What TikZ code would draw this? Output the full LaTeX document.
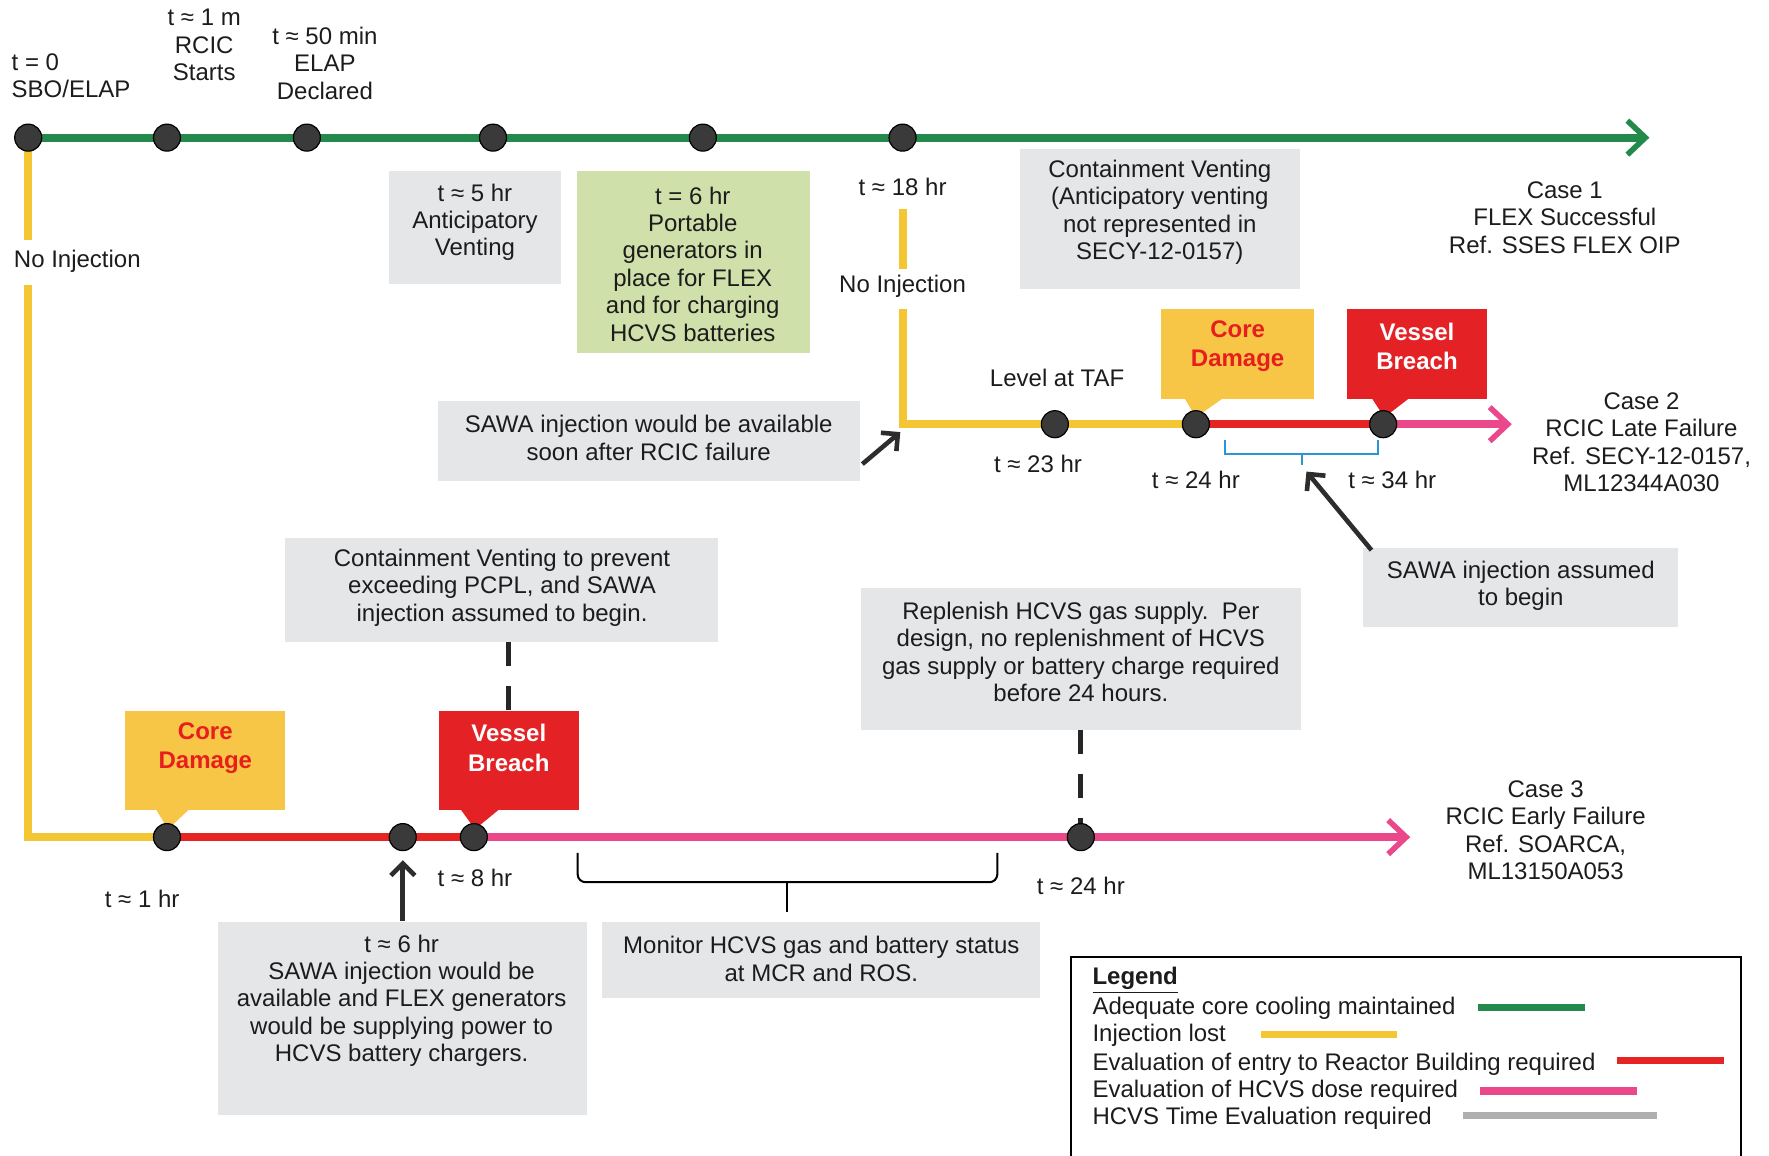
\documentclass[tikz,border=0pt]{standalone}
\usepackage{fontspec}
\setmainfont{Liberation Sans}
\usetikzlibrary{arrows.meta,fit,calc}
\definecolor{tlgreen}{RGB}{36,138,76}
\definecolor{tlyellow}{RGB}{244,198,52}
\definecolor{tlred}{RGB}{230,36,36}
\definecolor{tlpink}{RGB}{234,72,138}
\definecolor{tlgray}{RGB}{175,175,175}
\definecolor{boxgray}{RGB}{229,230,232}
\definecolor{boxgreen}{RGB}{207,224,170}
\definecolor{cdfill}{RGB}{247,198,70}
\definecolor{vbfill}{RGB}{228,34,38}
\definecolor{cdtext}{RGB}{232,30,30}
\definecolor{brblue}{RGB}{40,150,215}
\definecolor{dotc}{RGB}{58,58,58}
\definecolor{arrc}{RGB}{45,45,45}
\definecolor{txtc}{RGB}{28,28,28}
\begin{document}
\begin{tikzpicture}[x=0.564pt,y=-0.564pt,
  txt/.style={font=\fontsize{12}{13.7}\selectfont, align=center, inner sep=0pt, text=txtc},
  ltxt/.style={txt, align=left, anchor=west},
  gbox/.style={fill=boxgray, draw=none, inner sep=0pt},
  grbox/.style={fill=boxgreen, draw=none, inner sep=0pt},
  cdbox/.style={fill=cdfill, draw=none, inner sep=0pt},
  vbbox/.style={fill=vbfill, draw=none, inner sep=0pt},
  cdtxt/.style={font=\fontsize{12}{14.7}\selectfont\bfseries, align=center, inner sep=0pt, text=cdtext},
  vbtxt/.style={font=\fontsize{12}{14.7}\selectfont\bfseries, align=center, inner sep=0pt, text=white},
  dot/.style={circle, fill=dotc, draw=black, line width=0.6pt, minimum size=13.5pt, inner sep=0pt},
  tl/.style={line width=4pt},
  tip/.style={-{Straight Barb[length=9pt,width=17pt,line width=2.8pt]}},
  darr/.style={draw=arrc, line width=2.3pt, -{Straight Barb[length=6pt,width=12pt,line width=2.3pt]}},
  vdash/.style={draw=black!85, line width=2.5pt, dash pattern=on 12pt off 10pt},
  bracket/.style={draw=brblue, line width=1pt},
  brace/.style={draw=black, line width=1pt, rounded corners=4pt},
  legbar/.style={line width=3.6pt}
]
\useasboundingbox (0,0) rectangle (1568,1024);

% ---------- gray / green boxes ----------
\node[gbox, fit={(345,152)(497,252)}] (bx5) {};
\node[grbox, fit={(511,152)(718,313)}] (bx6g) {};
\node[gbox, fit={(904,132)(1152,256)}] (bxcv) {};
\node[gbox, fit={(388,355)(762,426)}] (sawa1) {};
\node[gbox, fit={(1208,486)(1487,556)}] (sawa2) {};
\node[gbox, fit={(253,477)(636,569)}] (cvp) {};
\node[gbox, fit={(763,521)(1153,647)}] (rep) {};
\node[gbox, fit={(193,817)(520,988)}] (bx6) {};
\node[gbox, fit={(534,817)(922,885)}] (mon) {};

% ---------- timeline coordinates ----------
\coordinate (a1) at (25,122);
\coordinate (a2) at (148,122);
\coordinate (a3) at (272,122);
\coordinate (a4) at (437,122);
\coordinate (a5) at (623,122);
\coordinate (a6) at (800,122);
\coordinate (a7) at (1462,122);
\coordinate (y1a) at (25,213);
\coordinate (y1b) at (25,253);
\coordinate (c0) at (25,742);
\coordinate (c1) at (148,742);
\coordinate (c2) at (357,742);
\coordinate (c3) at (420,742);
\coordinate (c4) at (958,742);
\coordinate (c5) at (1250,742);
\coordinate (y2a) at (800,185);
\coordinate (y2b) at (800,238);
\coordinate (y2c) at (800,274);
\coordinate (b0) at (800,376);
\coordinate (b1) at (935,376);
\coordinate (b2) at (1060,376);
\coordinate (b3) at (1226,376);
\coordinate (b4) at (1340,376);

% ---------- timelines ----------
\draw[tl, tlgreen, tip] (a1) -- (a7);
\draw[tl, tlyellow] (a1) -- (y1a);
\draw[tl, tlyellow] (y1b) -- (c0) -- (c1);
\draw[tl, tlred] (c1) -- (c3);
\draw[tl, tlpink, tip] (c3) -- (c5);
\draw[tl, tlyellow] (y2a) -- (y2b);
\draw[tl, tlyellow] (y2c) -- (b0) -- (b2);
\draw[tl, tlred] (b2) -- (b3);
\draw[tl, tlpink, tip] (b3) -- (b4);

% ---------- callouts ----------
\node[cdbox, fit={(1029,274)(1165,354)}] (cd2) {};
\fill[cdfill] (1050,353) -- (1060,370) -- (1084,353) -- cycle;
\node[vbbox, fit={(1194,274)(1318,354)}] (vb2) {};
\fill[vbfill] (1216,353) -- (1227,370) -- (1249,353) -- cycle;
\node[cdbox, fit={(111,630)(253,718)}] (cd3) {};
\fill[cdfill] (138,717) -- (149,735) -- (168,717) -- cycle;
\node[vbbox, fit={(389,630)(513,718)}] (vb3) {};
\fill[vbfill] (408,717) -- (421,735) -- (443,717) -- cycle;

% ---------- dashed connectors ----------
\draw[vdash] (vb3.north |- cvp.south) -- (vb3.north);
\draw[vdash] (rep.south) -- (c4);

% ---------- brackets ----------
\coordinate (brc) at (1154,412);
\draw[bracket] (1086,390) -- (1086,402) -- (1221,402) -- (1221,390);
\draw[bracket] (1154,402) -- (brc);
\coordinate (brc3) at (698,808);
\draw[brace] (512,756) -- (512,782) -- (884,782) -- (884,756);
\draw[brace] (698,782) -- (brc3);

% ---------- dots ----------
\foreach \p in {a1,a2,a3,a4,a5,a6,b1,b2,b3,c1,c2,c3,c4}
  \node[dot] (d\p) at (\p) {};

% ---------- arrows ----------
\draw[darr] ($(sawa1.south east)+(2,-15)$) -- ($(b0)+(-2,7)$);
\draw[darr] ($(sawa2.north west)+(8,2)$) -- ($(brc)+(4,6)$);
\draw[darr] (bx6.north -| dc2) -- ($(dc2.south)+(0,8)$);

% ---------- texts ----------
\node[ltxt] (t0) at (10,67) {t = 0\\SBO/ELAP};
\node[txt] (t1m) at (181,40) {t ≈ 1 m\\RCIC\\Starts};
\node[txt] (t50) at (288,56) {t ≈ 50 min\\ELAP\\Declared};
\node[ltxt] (ni1) at (12,232) {No Injection};
\node[txt] (bx5t) at (421,197) {t ≈ 5 hr\\Anticipatory\\Venting};
\node[txt] (bx6gt) at (614,234) {t = 6 hr\\Portable\\generators in\\place for FLEX\\and for charging\\HCVS batteries};
\node[txt] (t18) at (800,166) {t ≈ 18 hr};
\node[txt] (ni2) at (800,254) {No Injection};
\node[txt] (bxcvt) at (1028,188) {Containment Venting\\(Anticipatory venting\\not represented in\\SECY-12-0157)};
\node[txt] (case1) at (1387,193) {Case 1\\FLEX Successful\\Ref. SSES FLEX OIP};
\node[txt] (sawa1t) at (575,388) {SAWA injection would be available\\soon after RCIC failure};
\node[txt] (taf) at (937,335) {Level at TAF};
\node[txt] (t23) at (920,411) {t ≈ 23 hr};
\node[txt] (t24a) at (1060,425) {t ≈ 24 hr};
\node[txt] (t34) at (1234,425) {t ≈ 34 hr};
\node[cdtxt] (cd2t) at (1097,307) {Core\\Damage};
\node[vbtxt] (vb2t) at (1256,307) {Vessel\\Breach};
\node[txt] (case2) at (1455,392) {Case 2\\RCIC Late Failure\\Ref. SECY-12-0157,\\ML12344A030};
\node[txt] (sawa2t) at (1348,519) {SAWA injection assumed\\to begin};
\node[txt] (cvpt) at (445,521) {Containment Venting to prevent\\exceeding PCPL, and SAWA\\injection assumed to begin.};
\node[txt] (rept) at (958,578) {Replenish HCVS gas supply.\ \ Per\\design, no replenishment of HCVS\\gas supply or battery charge required\\before 24 hours.};
\node[cdtxt] (cd3t) at (182,663) {Core\\Damage};
\node[vbtxt] (vb3t) at (451,663) {Vessel\\Breach};
\node[txt] (case3) at (1370,736) {Case 3\\RCIC Early Failure\\Ref. SOARCA,\\ML13150A053};
\node[txt] (t1h) at (126,797) {t ≈ 1 hr};
\node[txt] (t8) at (421,778) {t ≈ 8 hr};
\node[txt] (t24b) at (958,785) {t ≈ 24 hr};
\node[txt] (bx6t) at (356,887) {t ≈ 6 hr\\SAWA injection would be\\available and FLEX generators\\would be supplying power to\\HCVS battery chargers.};
\node[txt] (mont) at (728,850) {Monitor HCVS gas and battery status\\at MCR and ROS.};

% ---------- legend ----------
\draw[line width=1.1pt] (949,1026) -- (949,848) -- (1543,848) -- (1543,1026);
\node[ltxt] (lg0) at (968,869) {\textbf{\underline{Legend}}};
\node[ltxt] (lg1) at (968,894) {Adequate core cooling maintained};
\node[ltxt] (lg2) at (968,918) {Injection lost};
\node[ltxt] (lg3) at (968,943) {Evaluation of entry to Reactor Building required};
\node[ltxt] (lg4) at (968,967) {Evaluation of HCVS dose required};
\node[ltxt] (lg5) at (968,991) {HCVS Time Evaluation required};
\draw[legbar, tlgreen] (1310,893) -- (1405,893);
\draw[legbar, tlyellow] (1118,917) -- (1238,917);
\draw[legbar, tlred] (1433,940) -- (1528,940);
\draw[legbar, tlpink] (1312,967) -- (1451,967);
\draw[legbar, tlgray] (1297,989) -- (1469,989);
\end{tikzpicture}
\end{document}
